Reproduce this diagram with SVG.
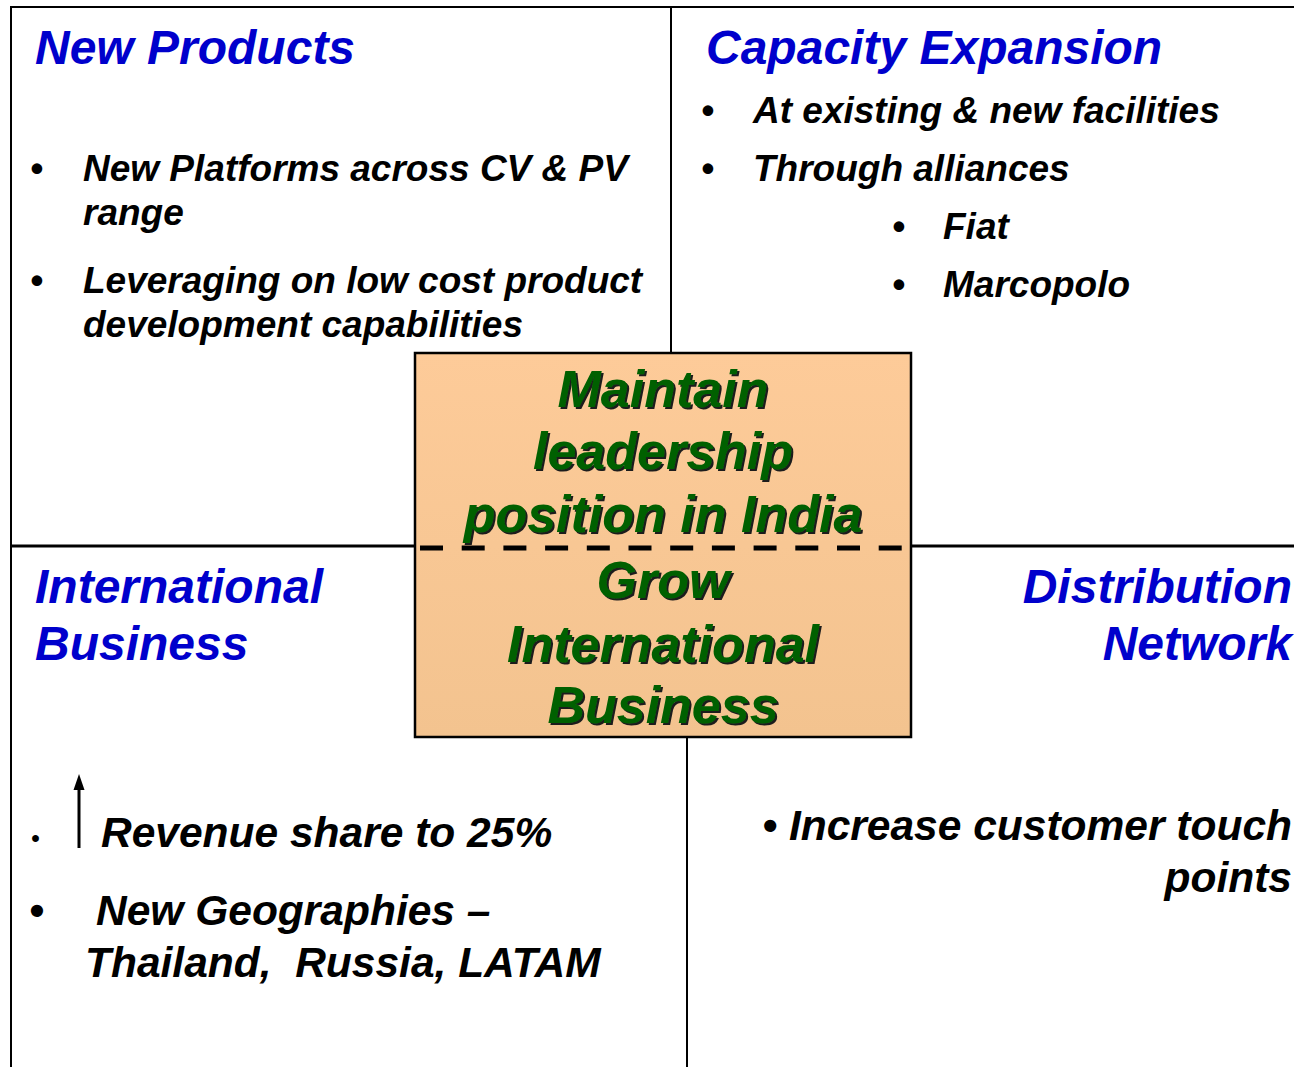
<svg xmlns="http://www.w3.org/2000/svg" width="1294" height="1067" viewBox="0 0 1294 1067">
<style>
.t{font-family:"Liberation Sans",Arial,sans-serif;font-weight:bold;font-style:italic;fill:#0000CC;font-size:48px}
.b{font-family:"Liberation Sans",Arial,sans-serif;font-weight:bold;font-style:italic;fill:#000;font-size:37px}
.bl{font-size:42.5px}
.g{font-family:"Liberation Sans",Arial,sans-serif;font-weight:bold;font-style:italic;fill:#006000;font-size:52px;text-anchor:middle}
.ln{stroke:#000;fill:none}
</style>
<defs>
<linearGradient id="peach" x1="0" y1="0" x2="0" y2="1">
<stop offset="0" stop-color="#FDCB99"/>
<stop offset="1" stop-color="#F3C38F"/>
</linearGradient>
<filter id="sh" x="-5%" y="-5%" width="110%" height="120%">
<feDropShadow dx="2" dy="2" stdDeviation="0" flood-color="#1a1a1a" flood-opacity="1"/>
</filter>
</defs>
<g id="connectors">
<line class="ln" x1="11" y1="7" x2="1294" y2="7" stroke-width="2"/>
<line class="ln" x1="11" y1="6" x2="11" y2="1067" stroke-width="2"/>
<line class="ln" x1="671" y1="7" x2="671" y2="353" stroke-width="2"/>
<line class="ln" x1="687" y1="737" x2="687" y2="1067" stroke-width="2"/>
<line class="ln" x1="11" y1="546" x2="415" y2="546" stroke-width="3"/>
<line class="ln" x1="911" y1="546" x2="1294" y2="546" stroke-width="3"/>
</g>
<g id="new-products">
<text class="t" x="35" y="64">New Products</text>
<text class="b" x="30" y="181">•</text>
<text class="b" x="83" y="181">New Platforms across CV &amp; PV</text>
<text class="b" x="83" y="225">range</text>
<text class="b" x="30" y="293">•</text>
<text class="b" x="83" y="293">Leveraging on low cost product</text>
<text class="b" x="83" y="337">development capabilities</text>
</g>
<g id="capacity-expansion">
<text class="t" x="706" y="64">Capacity Expansion</text>
<text class="b" x="701" y="123">•</text>
<text class="b" x="753" y="123">At existing &amp; new facilities</text>
<text class="b" x="701" y="181">•</text>
<text class="b" x="753" y="181">Through alliances</text>
<text class="b" x="892" y="239">•</text>
<text class="b" x="943" y="239">Fiat</text>
<text class="b" x="892" y="297">•</text>
<text class="b" x="943" y="297">Marcopolo</text>
</g>
<g id="international-business">
<text class="t" x="35" y="603">International</text>
<text class="t" x="35" y="660">Business</text>
<text class="b" x="31" y="846" style="font-size:24px">•</text>
<line class="ln" x1="79" y1="848" x2="79" y2="785" stroke-width="3"/>
<path d="M79,774 L73.5,790 L84.5,790 Z" fill="#000"/>
<text class="b bl" x="101" y="847">Revenue share to 25%</text>
<text class="b bl" x="29" y="925">•</text>
<text class="b bl" x="96" y="925">New Geographies –</text>
<text class="b bl" x="85" y="977" xml:space="preserve">Thailand,  Russia, LATAM</text>
</g>
<g id="distribution-network">
<text class="t" x="1292" y="603" text-anchor="end">Distribution</text>
<text class="t" x="1292" y="660" text-anchor="end">Network</text>
<text class="b bl" x="1292" y="840" text-anchor="end">• Increase customer touch</text>
<text class="b bl" x="1292" y="892" text-anchor="end">points</text>
</g>
<g id="center-box">
<rect x="415" y="353" width="496" height="384" fill="url(#peach)" stroke="#000" stroke-width="2.5"/>
<line class="ln" x1="420" y1="548" x2="908" y2="548" stroke-width="5" stroke-dasharray="23 18.7"/>
<g filter="url(#sh)">
<text class="g" x="663" y="407">Maintain</text>
<text class="g" x="663" y="469">leadership</text>
<text class="g" x="663" y="532">position in India</text>
<text class="g" x="663" y="598">Grow</text>
<text class="g" x="663" y="662">International</text>
<text class="g" x="663" y="723">Business</text>
</g>
</g>
</svg>
